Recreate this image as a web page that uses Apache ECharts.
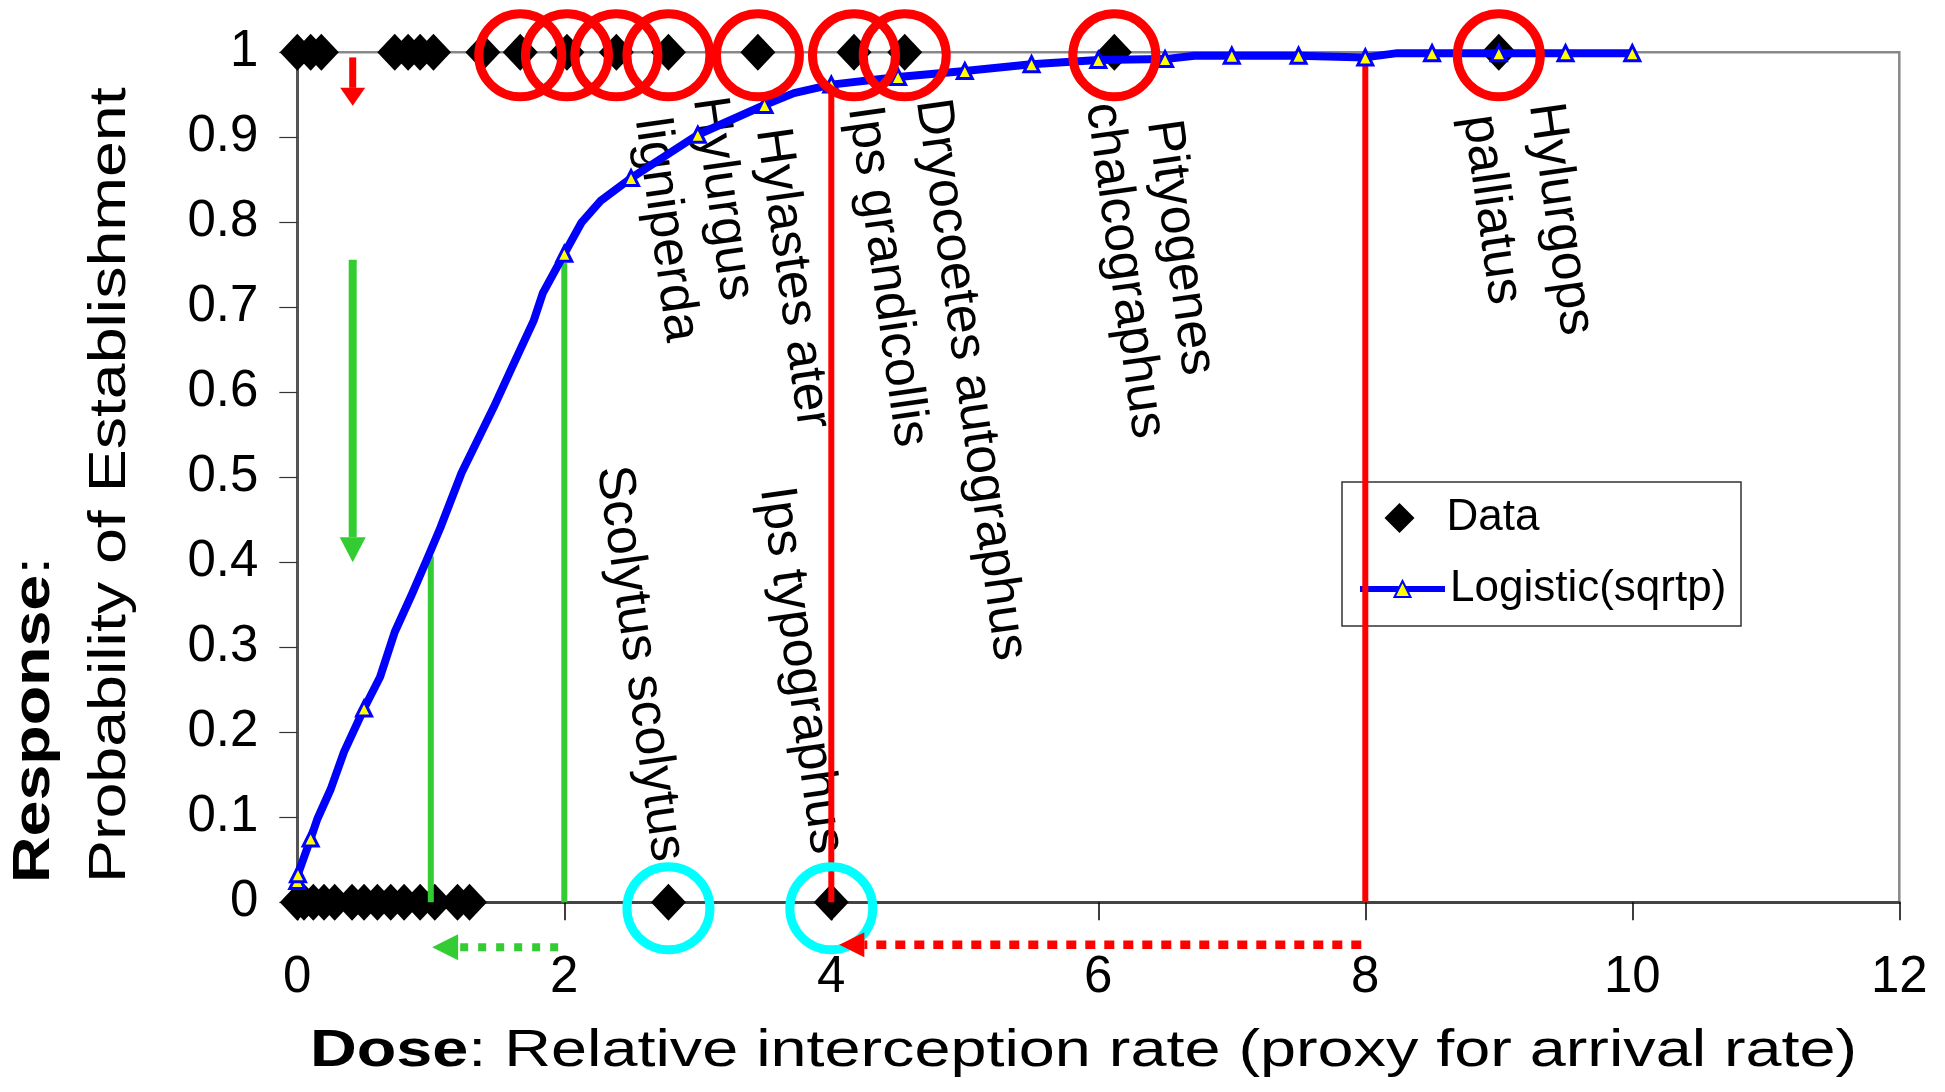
<!DOCTYPE html>
<html><head><meta charset="utf-8">
<script src="https://cdn.jsdelivr.net/npm/echarts/dist/echarts.min.js"></script>
<style>html,body{margin:0;padding:0;background:#fff}#c{width:1945px;height:1092px}</style>
</head><body><div id="c"></div>
<script>
const FONT = '"Liberation Sans", Arial, Helvetica, sans-serif';

// Observed species: relative interception rate (dose) of species that established (response 1)
const establishedDose = [0, 0.1, 0.18, 0.73, 0.83, 0.92, 1.02, 1.39, 1.67, 2.02, 2.39, 2.78, 3.45, 4.17, 4.55, 6.12, 9.0];
// ... and of species that did not establish (response 0)
const failedDose = [0, 0.05, 0.12, 0.2, 0.28, 0.41, 0.5, 0.6, 0.7, 0.8, 0.92, 1.03, 1.2, 1.29, 2.78, 4.0];

// Fitted logistic(sqrt p) curve: points drawn with a marker
const fitDose = [0, 0.005, 0.1, 0.5, 2, 2.5, 3, 3.5, 4, 4.5, 5, 5.5, 6, 6.5, 7, 7.5, 8, 8.5, 9, 9.5, 10];
const fitProb = [0.025, 0.033, 0.075, 0.228, 0.763, 0.852, 0.903, 0.938, 0.962, 0.971, 0.978, 0.986, 0.991, 0.992, 0.996, 0.996, 0.994, 0.999, 0.999, 0.999, 0.999];
// Fitted curve: intermediate vertices (no marker)
const curveDose = [0.15, 0.25, 0.35, 0.62, 0.73, 0.86, 0.97, 1.07, 1.23, 1.47, 1.61, 1.77, 1.84, 2.13, 2.27, 3.72, 6.72, 8.24];
const curveProb = [0.098, 0.133, 0.177, 0.265, 0.318, 0.363, 0.403, 0.44, 0.505, 0.582, 0.63, 0.684, 0.717, 0.80, 0.825, 0.952, 0.996, 0.999];

// Highlighted species
const circledEstablished = [1.67, 2.02, 2.39, 2.78, 3.45, 4.17, 4.55, 6.12, 9.0];
const circledFailed = [2.78, 4.0];

// Drop lines from the curve to the axis
const greenDropDose = [1, 2];
const greenDropProb = [0.407, 0.752];
const redDropDose = [4, 8];
const redDropProb = [0.962, 0.995];

// Arrows (data coordinates)
const arrowFrom = [[0.415, 0.994], [0.415, 0.756], [1.954, -0.053], [7.97, -0.05]];
const arrowTo   = [[0.415, 0.937], [0.415, 0.400], [1.01, -0.053], [4.06, -0.05]];

const speciesNames = ['Hylurgus', 'ligniperda', 'Hylastes ater', 'Ips grandicollis', 'Dryocoetes autographus',
  'Pityogenes', 'chalcographus', 'Hylurgops', 'palliatus', 'Scolytus scolytus', 'Ips typographus'];
// label anchor (pixel layout)
const labelPos = [[708, 97], [650, 118], [771, 128], [863, 106], [931, 99],
  [1162, 120], [1101, 103], [1544, 103], [1478, 115], [612, 466], [775, 487]];

const GREEN = '#33cc33', RED = '#ff0000', BLUE = '#0000ff', CYAN = '#00ffff';

const chart = echarts.init(document.getElementById('c'), null, {renderer: 'canvas'});

// build curve data
const merged = fitDose.map((x, i) => ({value: [x, fitProb[i]], marker: true}))
  .concat(curveDose.map((x, i) => ({value: [x, curveProb[i]], marker: false})))
  .sort((a, b) => a.value[0] - b.value[0]);
const curvePts = merged.map(p => p.marker ? {value: p.value} : {value: p.value, symbol: 'none'});
const curvePath = merged.map(p => p.value);

const dropSeries = [];
greenDropDose.forEach((x, i) => dropSeries.push({
  type: 'line', data: [[x, 0], [x, greenDropProb[i]]], showSymbol: false, symbol: 'none', silent: true, z: 3,
  lineStyle: {color: GREEN, width: 6}, clip: false
}));
redDropDose.forEach((x, i) => dropSeries.push({
  type: 'line', data: [[x, 0], [x, redDropProb[i]]], showSymbol: false, symbol: 'none', silent: true, z: 3,
  lineStyle: {color: RED, width: 6}, clip: false
}));

const option = {
  animation: false,
  backgroundColor: '#fff',
  grid: {left: 297.3, right: 45.7, top: 52.3, bottom: 189.7, show: true, borderColor: '#888', borderWidth: 2.5,
    outerBoundsMode: 'none', containLabel: false},
  xAxis: {
    type: 'value', min: 0, max: 12, interval: 2,
    axisLine: {show: true, onZero: false, lineStyle: {color: '#444', width: 3}},
    axisTick: {show: true, inside: false, length: 18, lineStyle: {color: '#000', width: 1.5}},
    axisLabel: {color: '#000', fontSize: 51, fontFamily: FONT, margin: 50},
    splitLine: {show: false}
  },
  yAxis: {
    type: 'value', min: 0, max: 1, interval: 0.1,
    axisLine: {show: true, onZero: false, lineStyle: {color: '#555', width: 3}},
    axisTick: {show: true, inside: false, length: 18, lineStyle: {color: '#333', width: 1.2}},
    axisLabel: {color: '#000', fontSize: 51, fontFamily: FONT, margin: 39},
    splitLine: {show: false}
  },
  legend: [
    {data: ['Data'], orient: 'vertical', left: 1384.5, top: 496, itemWidth: 30, itemHeight: 30, padding: 0,
      selectedMode: false, z: 1, formatter: '{p|}{name}',
      textStyle: {fontSize: 44, color: '#000', fontFamily: FONT,
        rich: {p: {width: 27, fontSize: 44}, name: {fontSize: 44, color: '#000', fontFamily: FONT}}}},
    {data: ['Logistic(sqrtp)'], orient: 'vertical', left: 1357, top: 567, itemWidth: 85, itemHeight: 20, padding: 0,
      selectedMode: false, z: 1, lineStyle: {width: 6, color: BLUE},
      textStyle: {fontSize: 44, color: '#000', fontFamily: FONT}}
  ],
  series: [
    {
      name: 'Data', type: 'scatter', symbol: 'diamond', symbolSize: [35, 37], clip: false, silent: true, z: 2,
      itemStyle: {color: '#000', opacity: 1},
      data: establishedDose.map(x => [x, 1]).concat(failedDose.map(x => [x, 0]))
    },
    ...dropSeries,
    {
      type: 'line', showSymbol: false, symbol: 'none', clip: false, silent: true, z: 4,
      lineStyle: {color: BLUE, width: 8, join: 'round', cap: 'round'}, data: curvePath
    },
    {
      name: 'Logistic(sqrtp)', type: 'line', symbol: 'triangle', symbolSize: 15, showAllSymbol: true, clip: false,
      silent: true, z: 4,
      itemStyle: {color: '#ffff00', borderColor: BLUE, borderWidth: 3, opacity: 1},
      lineStyle: {color: BLUE, width: 6},
      data: curvePts
    },
    {
      type: 'scatter', symbol: 'circle', symbolSize: 83, symbolOffset: [0, 3], clip: false, silent: true, z: 6,
      itemStyle: {color: 'rgba(0,0,0,0)', borderColor: RED, borderWidth: 9, opacity: 1},
      data: circledEstablished.map(x => [x, 1])
    },
    {
      type: 'scatter', symbol: 'circle', symbolSize: 83, symbolOffset: [0, 6], clip: false, silent: true, z: 6,
      itemStyle: {color: 'rgba(0,0,0,0)', borderColor: CYAN, borderWidth: 9, opacity: 1},
      data: circledFailed.map(x => [x, 0])
    }
  ]
};
chart.setOption(option);

// arrows
const arrowStyle = [
  {color: RED, width: 7, headLen: 18, headW: 25, dash: null},
  {color: GREEN, width: 8, headLen: 25, headW: 26, dash: null},
  {color: GREEN, width: 8, headLen: 26, headW: 26, dash: [8, 10]},
  {color: RED, width: 8.5, headLen: 25, headW: 25, dash: [10, 9]}
];
const elements = [];
arrowFrom.forEach((f, i) => {
  const s = arrowStyle[i];
  const t = chart.convertToPixel({gridIndex: 0}, f);
  const h = chart.convertToPixel({gridIndex: 0}, arrowTo[i]);
  const dx = h[0] - t[0], dy = h[1] - t[1], L = Math.hypot(dx, dy);
  const ux = dx / L, uy = dy / L, px = -uy, py = ux;
  const bx = h[0] - ux * s.headLen, by = h[1] - uy * s.headLen;
  elements.push({type: 'line', silent: true, z: 10, shape: {x1: t[0], y1: t[1], x2: bx, y2: by},
    style: {stroke: s.color, lineWidth: s.width, lineDash: s.dash, lineCap: 'butt'}});
  elements.push({type: 'polygon', silent: true, z: 10,
    shape: {points: [[h[0], h[1]], [bx + px * s.headW / 2, by + py * s.headW / 2], [bx - px * s.headW / 2, by - py * s.headW / 2]]},
    style: {fill: s.color}});
});

// legend box
elements.push({type: 'rect', silent: true, z: 0, shape: {x: 1342, y: 482, width: 399, height: 144},
  style: {fill: '#fff', stroke: '#333', lineWidth: 1.5}});

// species labels
speciesNames.forEach((t, i) => {
  elements.push({type: 'text', silent: true, z: 1, x: labelPos[i][0], y: labelPos[i][1], rotation: -82 * Math.PI / 180,
    style: {text: t, fontSize: 52, fontFamily: FONT, fill: '#000', align: 'left', verticalAlign: 'middle'}});
});

// axis titles
elements.push({type: 'text', silent: true, z: 1, x: 310, y: 1052, scaleX: 1.245,
  style: {text: '{b|Dose}: Relative interception rate (proxy for arrival rate)', fontSize: 52, fontFamily: FONT, fill: '#000',
    align: 'left', verticalAlign: 'middle', rich: {b: {fontWeight: 'bold', fontSize: 52, fontFamily: FONT, fill: '#000'}}}});
elements.push({type: 'text', silent: true, z: 1, x: 34.5, y: 883, scaleX: 1.24, rotation: Math.PI / 2,
  style: {text: '{b|Response}:', fontSize: 52, fontFamily: FONT, fill: '#000',
    align: 'left', verticalAlign: 'middle', rich: {b: {fontWeight: 'bold', fontSize: 52, fontFamily: FONT, fill: '#000'}}}});
elements.push({type: 'text', silent: true, z: 1, x: 111, y: 883, scaleX: 1.24, rotation: Math.PI / 2,
  style: {text: 'Probability of Establishment', fontSize: 52, fontFamily: FONT, fill: '#000',
    align: 'left', verticalAlign: 'middle'}});

chart.setOption({graphic: {elements: elements}});
</script></body></html>
